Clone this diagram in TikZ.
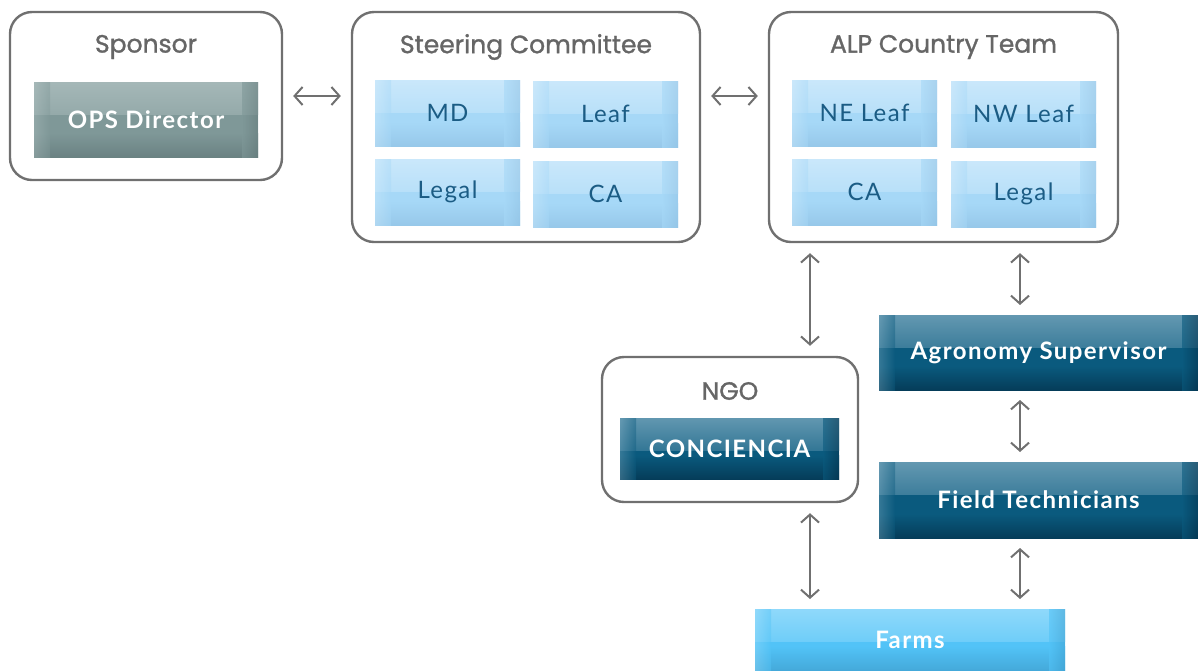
\documentclass[tikz,border=0pt]{standalone}
\usepackage{fontspec}
\setmainfont{Lato}
\newfontfamily\boxfont{Lato}[LetterSpace=6]
\newfontfamily\headfont{Poppins}[FakeBold=1.2]
\usetikzlibrary{arrows.meta,positioning,calc}
\definecolor{frame}{HTML}{707070}
\definecolor{headgray}{HTML}{666666}
\definecolor{paletop}{HTML}{CDE9FB}
\definecolor{palemid}{HTML}{A6D8F7}
\definecolor{palebot}{HTML}{93C4E6}
\definecolor{paleink}{HTML}{1B5C84}
\definecolor{deeptop}{HTML}{6A9DB5}
\definecolor{deepmid}{HTML}{0A5A7E}
\definecolor{deepbot}{HTML}{043550}
\definecolor{slatetop}{HTML}{A8BABA}
\definecolor{slatemid}{HTML}{7F9898}
\definecolor{slatebot}{HTML}{657C7D}
\definecolor{skytop}{HTML}{95DBFB}
\definecolor{skymid}{HTML}{52C3F7}
\definecolor{skybot}{HTML}{41A3D3}

\begin{document}
\begin{tikzpicture}[x=0.5pt, y=-0.5pt,
  group/.style={draw=frame, line width=1.2pt, rounded corners=11pt, fill=white},
  grouphead/.style={font=\headfont\fontsize{12.5}{14}\selectfont, text=headgray},
  bevel/.style n args={3}{fill=#2, path picture={
      \shade[top color=#1, bottom color=#2] ($(path picture bounding box.north west)+(0,3pt)$)
        rectangle ($(path picture bounding box.north east)+(0,-16pt)$);
      \shade[top color=#2, bottom color=#3] ($(path picture bounding box.south west)+(0,12pt)$)
        rectangle ($(path picture bounding box.south east)+(0,-3pt)$);
      \shade[left color=#1, right color=#2, opacity=0.45] (path picture bounding box.north west)
        rectangle ($(path picture bounding box.south west)+(8pt,0)$);
      \shade[left color=#2, right color=#3, opacity=0.6] ($(path picture bounding box.north east)+(-8pt,0)$)
        rectangle (path picture bounding box.south east);}},
  member/.style={minimum width=72.5pt, minimum height=33pt, inner sep=0pt, outer sep=0pt,
                 bevel={paletop}{palemid}{palebot}, text=paleink, font=\boxfont\fontsize{12}{14}\selectfont},
  role/.style={inner sep=0pt, outer sep=0pt, bevel={deeptop}{deepmid}{deepbot}, text=white,
               font=\boxfont\fontsize{12}{14}\selectfont\bfseries},
  link/.style={draw=frame, line width=1pt, {Straight Barb[length=4pt,width=9pt]}-{Straight Barb[length=4pt,width=9pt]},
               shorten >=5pt, shorten <=5pt}]
\useasboundingbox (0,0) rectangle (1198,670);
% ---------------- top row: sponsor, steering committee, country team
\node[group, minimum width=136pt, minimum height=84pt] (sponsor) at (146,96) {};
\node[grouphead] (sponsorhead) at (146,47) {Sponsor};
\node[role, minimum width=112pt, minimum height=37.5pt, bevel={slatetop}{slatemid}{slatebot}]
  (ops) at (146,119.5) {OPS Director};

\node[group, minimum width=174pt, minimum height=115pt] (steering) at (526,127) {};
\node[grouphead] (steeringhead) at (526,47) {Steering Committee};
\node[member] (md) at (447.5,113) {MD};
\node[member] (leaf) at (605.5,114) {Leaf};
\node[member] (legal) at (447.5,192) {Legal};
\node[member] (ca) at (605.5,194) {CA};

\node[group, minimum width=174.5pt, minimum height=115pt] (alp) at (943.5,127) {};
\node[grouphead] (alphead) at (943.5,47) {ALP Country Team};
\node[member] (neleaf) at (864.5,113) {NE Leaf};
\node[member] (nwleaf) at (1023.5,114) {NW Leaf};
\node[member] (alpca) at (864.5,192) {CA};
\node[member] (alplegal) at (1023.5,194) {Legal};
% ---------------- field side
\node[group, minimum width=128pt, minimum height=72.5pt] (ngo) at (730,429.5) {};
\node[grouphead] (ngohead) at (730,391) {NGO};
\node[role, minimum width=109.5pt, minimum height=30.5pt] (conciencia) at (729.5,448.5) {CONCIENCIA};

\node[role, minimum width=159.5pt, minimum height=37.5pt] (agronomy) at (1038.5,352.5) {Agronomy Supervisor};
\node[role, minimum width=159.5pt, minimum height=38pt] (field) at (1038.5,500) {Field Technicians};
\node[role, minimum width=155pt, minimum height=30.5pt, bevel={skytop}{skymid}{skybot}]
  (farms) at (910,639.5) {Farms};
% ---------------- links
\coordinate (ngolane) at (810,0);
\coordinate (fieldlane) at (1020,0);
\draw[link] (sponsor.east) -- (sponsor.east -| steering.west);
\draw[link] (steering.east |- sponsor.east) -- (alp.west |- sponsor.east);
\draw[link] (alp.south -| ngolane) -- (ngo.north -| ngolane);
\draw[link] (alp.south -| fieldlane) -- (agronomy.north -| fieldlane);
\draw[link] (agronomy.south -| fieldlane) -- (field.north -| fieldlane);
\draw[link] (field.south -| fieldlane) -- (farms.north -| fieldlane);
\draw[link] (ngo.south -| ngolane) -- (farms.north -| ngolane);
\end{tikzpicture}
\end{document}
